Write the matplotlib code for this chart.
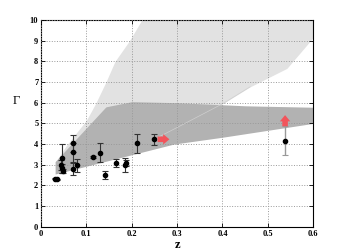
# gamma_vs_z.py
# Photon index versus redshift with model bands

import matplotlib.pyplot as plt
import numpy as np

# light grey cone (upper region)
cone_lo_z = [0.031, 0.26, 0.30, 0.402, 0.461, 0.542, 0.60]
cone_lo_g = [3.10, 4.35, 4.80, 5.97, 6.77, 7.66, 9.15]
cone_hi_z = [0.031, 0.055, 0.08, 0.10, 0.12, 0.143, 0.163, 0.195, 0.222]
cone_hi_g = [3.10, 3.90, 4.60, 5.15, 5.95, 7.00, 8.00, 9.00, 10.0]

# darker grey band
band_up_z = [0.031, 0.143, 0.20, 0.30, 0.45, 0.60]
band_up_g = [3.15, 5.80, 6.05, 6.00, 5.85, 5.78]
band_lo_z = [0.031, 0.10, 0.293, 0.40, 0.60]
band_lo_g = [2.55, 2.93, 4.00, 4.33, 5.00]

# measured sources
z = [0.030, 0.035, 0.046, 0.044, 0.046, 0.048, 0.071, 0.070, 0.070, 0.080,
     0.115, 0.129, 0.140, 0.166, 0.185, 0.188, 0.212, 0.249]
gam = [2.33, 2.30, 3.31, 2.98, 2.82, 2.71, 4.03, 3.60, 2.79, 2.98,
       3.39, 3.58, 2.52, 3.07, 2.99, 3.07, 4.03, 4.23]
gam_err = [0.03, 0.03, 0.70, 0.25, 0.20, 0.10, 0.40, 0.45, 0.30, 0.32,
           0.05, 0.47, 0.20, 0.20, 0.35, 0.15, 0.48, 0.27]

# far source (grey error bar)
z_far, gam_far, err_far = 0.538, 4.15, 0.70

# lower-limit arrows (start, end)
arr_right = (0.257, 4.23, 0.283, 4.23)
arr_up = (0.538, 4.86, 0.538, 5.40)

light = "#e2e2e2"
dark = "#b2b2b2"
red = "#f2545b"

plt.rcParams["font.family"] = ["Liberation Serif", "DejaVu Serif"]

fig = plt.figure(figsize=(3.48, 2.5), dpi=100)
ax = fig.add_axes([0.118, 0.093, 0.782, 0.827])

# light cone: between lower edge and upper edge, filled on a common grid
zz = np.linspace(0.031, 0.6, 400)
top = np.interp(zz, cone_hi_z, cone_hi_g, right=11.0)
bot = np.interp(zz, cone_lo_z, cone_lo_g)
ax.fill_between(zz, bot, top, color=light, lw=0, zorder=1)

zb = np.linspace(0.031, 0.6, 400)
ax.fill_between(zb, np.interp(zb, band_lo_z, band_lo_g),
                np.interp(zb, band_up_z, band_up_g), color=dark, lw=0, zorder=1.5)
# faint seam where the cone edge crosses the band
seam = np.array(cone_lo_z) >= 0.26
ax.plot(np.array(cone_lo_z)[seam][:4], np.array(cone_lo_g)[seam][:4],
        color="#cfcfcf", lw=0.5, zorder=1.6)

ax.errorbar(z, gam, yerr=gam_err, fmt="o", ms=3, color="black",
            ecolor="#333333", elinewidth=0.8, capsize=2.5, capthick=0.8, zorder=4)
ax.errorbar([z_far], [gam_far], yerr=[err_far], fmt="o", ms=3, color="black",
            ecolor="#999999", elinewidth=1.0, capsize=2.5, capthick=0.8, zorder=4)

for x0, y0, x1, y1 in (arr_right, arr_up):
    ax.annotate("", xy=(x1, y1), xytext=(x0, y0),
                arrowprops=dict(arrowstyle="simple,head_length=0.45,head_width=0.75,tail_width=0.4",
                                color=red, lw=0, shrinkA=0, shrinkB=0), zorder=5)

ax.set_xlim(0, 0.6)
ax.set_ylim(0, 10)
ax.set_xticks(np.arange(0, 0.61, 0.1))
ax.set_xticklabels(["0", "0.1", "0.2", "0.3", "0.4", "0.5", "0.6"])
ax.set_yticks(range(0, 11))
ax.grid(True, color="#999999", ls=":", lw=0.7, zorder=2)
ax.set_axisbelow(False)
ax.tick_params(direction="in", top=True, right=True, length=3, width=0.6,
               labelsize=6, pad=2)
for lab in ax.get_xticklabels() + ax.get_yticklabels():
    lab.set_fontweight("bold")
for s in ax.spines.values():
    s.set_linewidth(0.8)

ax.set_xlabel("z", fontsize=9, fontweight="bold", labelpad=1)
ax.set_ylabel("Γ", fontsize=9, rotation=0)
ax.yaxis.set_label_coords(-0.09, 0.58)

fig.savefig("out.png", dpi=100)
